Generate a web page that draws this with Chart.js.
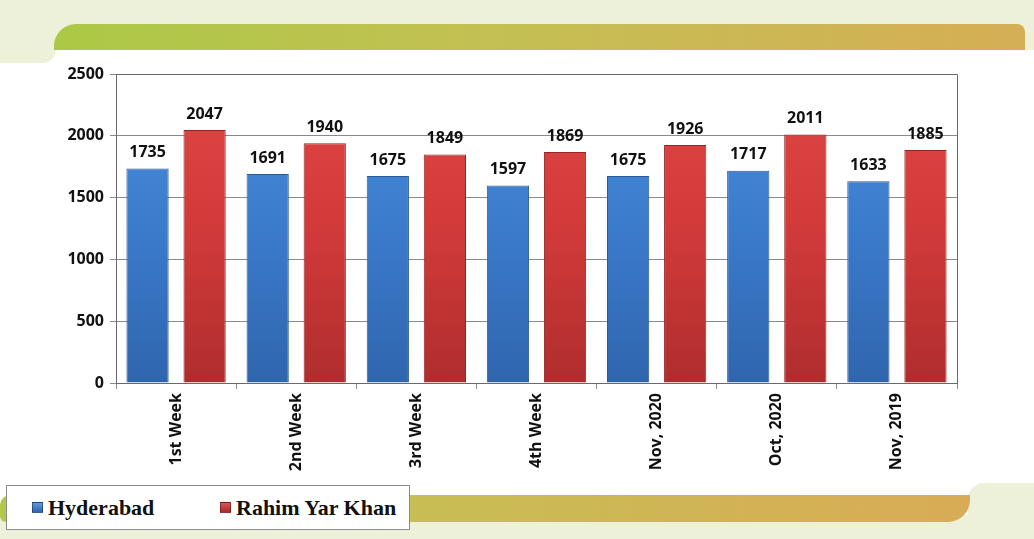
<!DOCTYPE html>
<html>
<head>
<meta charset="utf-8">
<script src="https://cdn.jsdelivr.net/npm/chart.js@4.4.1/dist/chart.umd.min.js"></script>
<style>
  html, body { margin: 0; padding: 0; background: #fff; }
  #wrap { position: relative; width: 1034px; height: 539px; overflow: hidden; background: #fff; }
  .deco { position: absolute; }
  #topLight { left: 0; top: 0; width: 1034px; height: 50px; background: #edf1da; }
  #leftBlock { left: 0; top: 0; width: 56px; height: 63px; background: #edf1da; border-bottom-right-radius: 14px; }
  #topBanner { left: 54px; top: 24px; width: 971px; height: 26px;
    background: linear-gradient(to right, #abc945, #c4c053 45%, #d5ae55);
    border-top-left-radius: 22px; border-top-right-radius: 8px; }
  #bottomLight { left: 0; top: 515px; width: 1034px; height: 24px; background: #edf1da; }
  #rightBlock { left: 968px; top: 483px; width: 66px; height: 56px; background: #edf1da; border-top-left-radius: 16px; }
  #bottomBanner { left: 0; top: 495px; width: 970px; height: 27px;
    background: linear-gradient(to right, #b2c84a, #c8bd55 45%, #d9ab56);
    border-bottom-right-radius: 22px; border-top-left-radius: 10px; border-bottom-left-radius: 6px; }
  #chartBox { position: absolute; left: 0; top: 0; width: 1034px; height: 539px; }
  #legend { position: absolute; left: 6px; top: 485px; width: 404px; height: 45px; box-sizing: border-box;
    background: #fff; border: 1px solid #8c8c8c; font-family: "Liberation Serif", serif; font-weight: bold;
    font-size: 22px; color: #111; }
  #legend span.item { position: absolute; top: 9px; white-space: nowrap; }
  #legend i { display: inline-block; width: 9px; height: 9px; margin-right: 5px; vertical-align: 2px; border: 1px solid rgba(0,0,0,0.35); }
</style>
</head>
<body>
<div id="wrap">
  <div class="deco" id="topLight"></div>
  <div class="deco" id="leftBlock"></div>
  <div class="deco" id="topBanner"></div>
  <div class="deco" id="bottomLight"></div>
  <div class="deco" id="rightBlock"></div>
  <div class="deco" id="bottomBanner"></div>
  <div id="chartBox"><canvas id="BarChart"></canvas></div>
  <div id="legend"></div>
</div>
<script>
const categories = ['1st Week', '2nd Week', '3rd Week', '4th Week', 'Nov, 2020', 'Oct, 2020', 'Nov, 2019'];
const hyderabad = [1735, 1691, 1675, 1597, 1675, 1717, 1633];
const rahimYarKhan = [2047, 1940, 1849, 1869, 1926, 2011, 1885];
const yTicks = [0, 500, 1000, 1500, 2000, 2500];

const tickFont = { family: '"Open Sans", sans-serif', size: 16, weight: 'bold' };

function barGradient(top, mid, bottom) {
    return function (context) {
        const area = context.chart.chartArea;
        if (!area) return mid;
        const g = context.chart.ctx.createLinearGradient(0, area.top, 0, area.bottom);
        g.addColorStop(0, top);
        g.addColorStop(0.5, mid);
        g.addColorStop(1, bottom);
        return g;
    };
}

// frame round the plot area
const plotFrame = {
    id: 'plotFrame',
    beforeDatasetsDraw(chart) {
        const { ctx, chartArea: a } = chart;
        ctx.save();
        ctx.strokeStyle = '#6a6a6a';
        ctx.lineWidth = 1;
        ctx.beginPath();
        ctx.moveTo(a.left, a.top + 0.5);
        ctx.lineTo(a.right + 0.5, a.top + 0.5);
        ctx.lineTo(a.right + 0.5, a.bottom);
        ctx.stroke();
        ctx.restore();
    }
};

// value labels above bars
const valueLabels = {
    id: 'valueLabels',
    afterDatasetsDraw(chart) {
        const ctx = chart.ctx;
        ctx.save();
        ctx.font = 'bold 16px "Open Sans", sans-serif';
        ctx.fillStyle = '#111';
        ctx.textAlign = 'center';
        ctx.textBaseline = 'bottom';
        chart.data.datasets.forEach((ds, i) => {
            chart.getDatasetMeta(i).data.forEach((bar, j) => {
                ctx.fillText(ds.data[j], bar.x, bar.y - 8);
            });
        });
        ctx.restore();
    }
};

const ctxBar = document.getElementById('BarChart').getContext('2d');
const chart = new Chart(ctxBar, {
    type: 'bar',
    data: {
        labels: categories,
        datasets: [{
            label: 'Hyderabad',
            data: hyderabad,
            backgroundColor: barGradient('#4b8ddc', '#3b7bcc', '#2f65ad'),
            borderColor: '#2a5a96',
            borderWidth: 1,
            categoryPercentage: 0.95,
            barPercentage: 0.74
        }, {
            label: 'Rahim Yar Khan',
            data: rahimYarKhan,
            backgroundColor: barGradient('#e04848', '#d23a3a', '#b02d2d'),
            borderColor: '#922525',
            borderWidth: 1,
            categoryPercentage: 0.95,
            barPercentage: 0.74
        }]
    },
    options: {
        responsive: true,
        maintainAspectRatio: false,
        animation: false,
        layout: { padding: { left: 0, right: 77, top: 74, bottom: 0 } },
        plugins: { legend: { display: false }, tooltip: { enabled: false } },
        scales: {
            x: {
                grid: { drawOnChartArea: false, drawTicks: true, tickLength: 6, color: '#8a8a8a', offset: true },
                border: { color: '#6a6a6a' },
                ticks: { color: '#111', font: tickFont, minRotation: 90, maxRotation: 90, padding: 4 },
                afterFit(scale) { scale.height = 156; }
            },
            y: {
                min: 0,
                max: 2500,
                afterBuildTicks(scale) { scale.ticks = yTicks.map(v => ({ value: v })); },
                grid: { color: '#8a8a8a', tickLength: 6 },
                border: { color: '#6a6a6a' },
                ticks: { color: '#111', font: tickFont, padding: 6, callback: v => String(v) },
                afterFit(scale) { scale.width = 116; }
            }
        }
    },
    plugins: [plotFrame, valueLabels]
});

// html legend built from the datasets
const swatch = [['#5c9ae4', '#2f65ad'], ['#e05454', '#a82a2a']];
const legendLeft = [25, 213];
document.getElementById('legend').innerHTML = chart.data.datasets.map((ds, i) =>
    '<span class="item" style="left:' + legendLeft[i] + 'px"><i style="background:linear-gradient(' +
    swatch[i][0] + ',' + swatch[i][1] + ')"></i>' + ds.label + '</span>'
).join('');
</script>
</body>
</html>
